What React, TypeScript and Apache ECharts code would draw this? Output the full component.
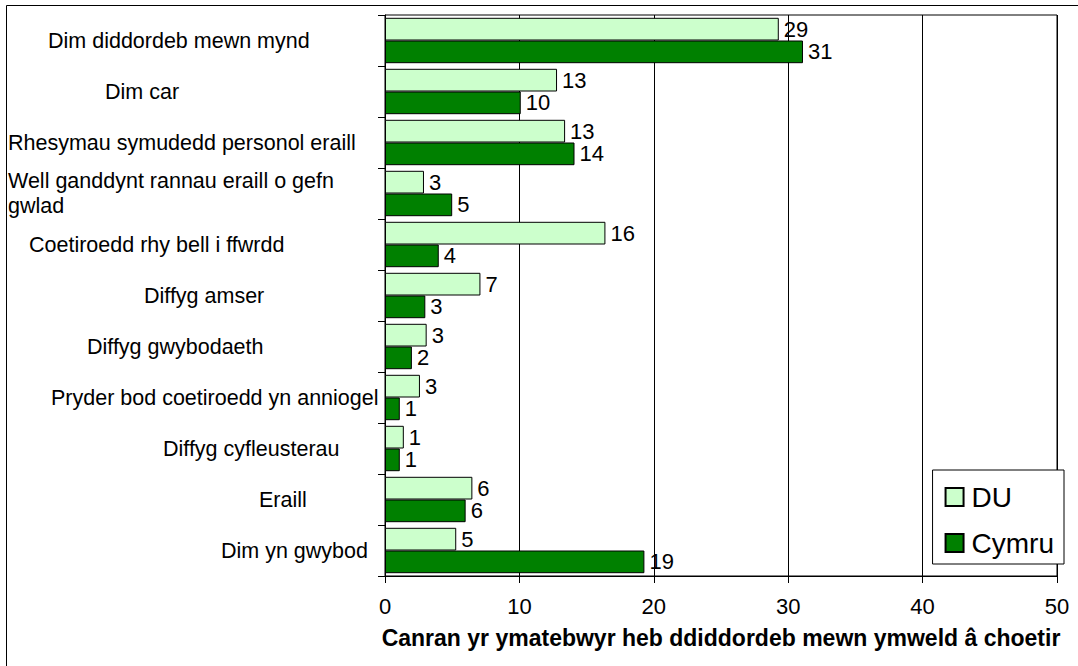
import React, { useEffect, useRef } from "react";
import * as echarts from "echarts";

const categories = [
  "Dim diddordeb mewn mynd",
  "Dim car",
  "Rhesymau symudedd personol eraill",
  "Well ganddynt rannau eraill o gefn\ngwlad",
  "Coetiroedd rhy bell i ffwrdd",
  "Diffyg amser",
  "Diffyg gwybodaeth",
  "Pryder bod coetiroedd yn anniogel",
  "Diffyg cyfleusterau",
  "Eraill",
  "Dim yn gwybod",
];
const seriesNames = ["DU", "Cymru"];
const duValues = [29.3, 12.8, 13.4, 2.9, 16.4, 7.1, 3.1, 2.6, 1.4, 6.5, 5.3];
const cymruValues = [31.1, 10.1, 14.1, 5.0, 4.0, 3.0, 2.0, 1.1, 1.1, 6.0, 19.3];
const duLabels = [29, 13, 13, 3, 16, 7, 3, 3, 1, 6, 5];
const cymruLabels = [31, 10, 14, 5, 4, 3, 2, 1, 1, 6, 19];
const xMin = 0;
const xMax = 50;
const xInterval = 10;
const axisTitle = "Canran yr ymatebwyr heb ddiddordeb mewn ymweld â choetir";

const FONT = "'Liberation Sans', Arial, sans-serif";
// layout only: left offset of each category label (Excel-style irregular placement)
const labelLeftPad = [40, 97, 0, 0, 21, 136, 79, 43, 155, 251, 213];

export default function App() {
  const ref = useRef<HTMLDivElement>(null);
  useEffect(() => {
    const chart = echarts.init(ref.current!, null, { renderer: "svg" });
    const option: any = {
      animation: false,
      backgroundColor: "#fff",
      textStyle: { fontFamily: FONT, color: "#000" },
      graphic: [
        {
          type: "rect",
          shape: { x: 6.5, y: 5.5, width: 1200, height: 800 },
          style: { fill: "none", stroke: "#000", lineWidth: 1 },
          silent: true,
        },
      ],
      grid: {
        left: 385,
        top: 15,
        right: 21,
        bottom: 90,
        containLabel: false,
        outerBoundsMode: "none",
        show: true,
        borderColor: "#000",
        borderWidth: 1,
        backgroundColor: "#fff",
      },
      legend: {
        orient: "vertical",
        right: 14,
        top: 470,
        padding: [13, 10, 7, 12],
        itemWidth: 18,
        itemHeight: 18,
        itemGap: 18,
        borderColor: "#000",
        borderWidth: 1,
        backgroundColor: "#fff",
        icon: "rect",
        textStyle: { fontFamily: FONT, fontSize: 28, color: "#000", padding: [0, 0, 0, 3] },
        data: seriesNames,
      },
      xAxis: {
        type: "value",
        min: xMin,
        max: xMax,
        interval: xInterval,
        axisLine: { show: true, lineStyle: { color: "#000", width: 1 } },
        axisTick: { show: true, length: 7, lineStyle: { color: "#000" } },
        axisLabel: { fontFamily: FONT, fontSize: 22, color: "#000", margin: 19 },
        splitLine: { show: true, lineStyle: { color: "#000", width: 1 } },
        name: axisTitle,
        nameLocation: "middle",
        nameGap: 50,
        nameTextStyle: { fontFamily: FONT, fontSize: 23, fontWeight: "bold", color: "#000" },
      },
      yAxis: {
        type: "category",
        inverse: true,
        data: categories.map((c, i) => ({
          value: c,
          textStyle: { align: "left", padding: [0, 0, 26, labelLeftPad[i]] },
        })),
        axisLine: { show: true, lineStyle: { color: "#000", width: 1 } },
        axisTick: { show: true, length: 7, interval: 0, lineStyle: { color: "#000" } },
        axisLabel: {
          interval: 0,
          align: "left",
          margin: 377,
          fontFamily: FONT,
          fontSize: 21.5,
          lineHeight: 25,
          color: "#000",
        },
        splitLine: { show: false },
      },
      series: [
        {
          name: seriesNames[0],
          type: "bar",
          data: duValues,
          barGap: "0%",
          barCategoryGap: "11%",
          itemStyle: { color: "#CCFFCC", borderColor: "#000", borderWidth: 1 },
          label: {
            show: true,
            position: "right",
            distance: 5,
            fontFamily: FONT,
            fontSize: 22,
            color: "#000",
            formatter: (p: any) => String(duLabels[p.dataIndex]),
          },
        },
        {
          name: seriesNames[1],
          type: "bar",
          data: cymruValues,
          barGap: "0%",
          barCategoryGap: "11%",
          itemStyle: { color: "#008000", borderColor: "#000", borderWidth: 1 },
          label: {
            show: true,
            position: "right",
            distance: 5,
            fontFamily: FONT,
            fontSize: 22,
            color: "#000",
            formatter: (p: any) => String(cymruLabels[p.dataIndex]),
          },
        },
      ],
    };
    chart.setOption(option);
    return () => chart.dispose();
  }, []);
  return (
    <div
      ref={ref}
      style={{ position: "fixed", left: 0, top: 0, width: 1078, height: 666, background: "#fff" }}
    />
  );
}
